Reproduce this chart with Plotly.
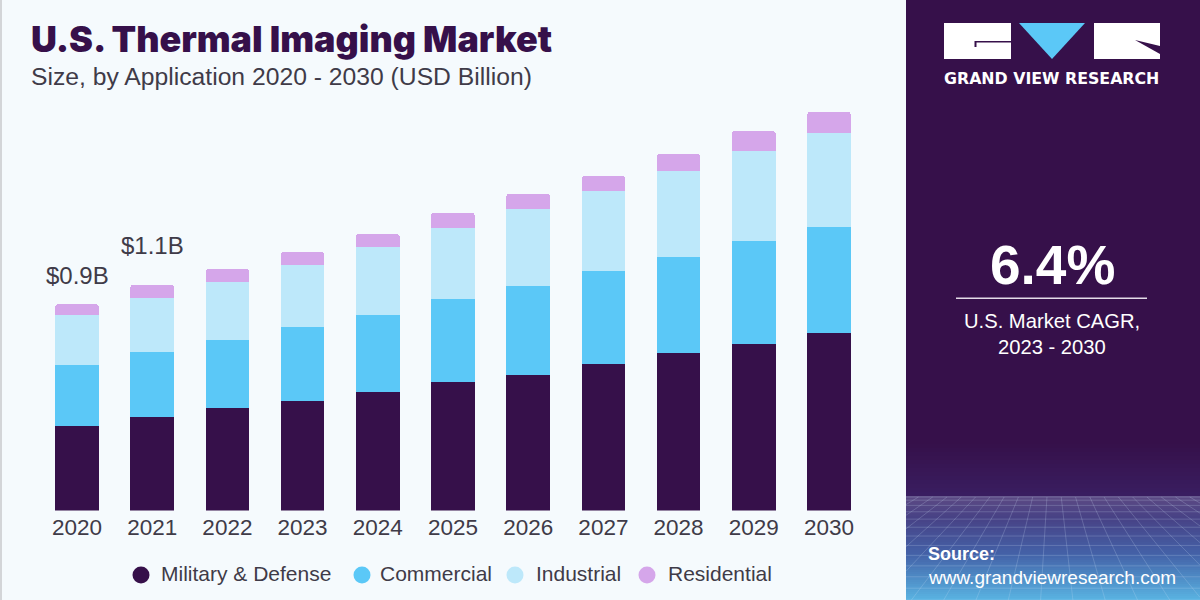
import numpy as np
import plotly.graph_objects as go

# values in USD billion
years = ["2020", "2021", "2022", "2023", "2024", "2025", "2026", "2027", "2028", "2029", "2030"]
military = [0.369, 0.408, 0.448, 0.478, 0.517, 0.561, 0.592, 0.640, 0.688, 0.727, 0.775]
commercial = [0.266, 0.284, 0.297, 0.323, 0.336, 0.362, 0.389, 0.406, 0.419, 0.450, 0.463]
industrial = [0.218, 0.236, 0.253, 0.271, 0.297, 0.310, 0.336, 0.349, 0.376, 0.393, 0.410]
residential = [0.048, 0.057, 0.057, 0.057, 0.057, 0.066, 0.066, 0.066, 0.074, 0.087, 0.092]

series_names = ["Military & Defense", "Commercial", "Industrial", "Residential"]
series_values = [military, commercial, industrial, residential]
series_colors = ["#36104A", "#5BC8F7", "#BDE8FA", "#D5A6EA"]

bar_labels = {"2020": "$0.9B", "2021": "$1.1B"}
label_shift = {"2020": 13, "2021": 24}

PURPLE = "#36104A"
TEXT = "#3F3B48"


def px(x):
    return x / 1200


def py(y):
    return 1 - y / 600


def rect(x0, y0, x1, y1, color, layer="below"):
    return dict(type="rect", xref="paper", yref="paper", x0=px(x0), x1=px(x1), y0=py(y0), y1=py(y1),
                fillcolor=color, line_width=0, layer=layer)


def poly(points, color):
    d = "M" + " L".join(f"{px(x):.5f},{py(y):.5f}" for x, y in points) + " Z"
    return dict(type="path", xref="paper", yref="paper", path=d, fillcolor=color, line_width=0, layer="above")


def note(x, y, text, size, color, anchor="left", bold=False, family="Liberation Sans", weight=None):
    if bold:
        text = f"<b>{text}</b>"
    font = dict(size=size, color=color, family=family)
    if weight:
        font["weight"] = weight
    if anchor == "left":
        x -= 2  # annotation box padding
    return dict(xref="paper", yref="paper", x=px(x), y=py(y), text=text, showarrow=False, xanchor=anchor,
                yanchor="middle", font=font)


def mix(c0, c1, t):
    return "rgb(" + ",".join(str(int(a + (b - a) * t)) for a, b in zip(c0, c1)) + ")"


fig = go.Figure()

for name, values, color in zip(series_names, series_values, series_colors):
    fig.add_trace(go.Bar(x=years, y=values, name=name, marker=dict(color=color, line_width=0), showlegend=False))

shapes = [rect(0, 0, 2, 600, "#D3D5D8"), rect(906, 0, 1200, 600, PURPLE)]

# bottom of the side panel: gradient then the wire floor
for y in range(440, 496, 4):
    shapes.append(rect(906, y, 1200, y + 4, mix((54, 16, 74), (58, 30, 98), (y - 440) / 56)))
stops = [(0.0, (92, 74, 132)), (0.2, (72, 66, 134)), (0.55, (68, 98, 168)), (1.0, (90, 182, 228))]
for y in range(496, 600, 2):
    t = (y - 496) / 104
    for (t0, c0), (t1, c1) in zip(stops, stops[1:]):
        if t0 <= t <= t1:
            shapes.append(rect(906, y, 1200, y + 2, mix(c0, c1, (t - t0) / (t1 - t0))))
            break

grid = []
for k in np.linspace(0, 1, 13):
    y = 497 + 103 * k ** 1.4
    grid.append(f"M{px(906):.5f},{py(y):.5f} L1,{py(y):.5f}")
for x in np.arange(-500, 1700, 34):
    x_top = 1052 + (x - 600) * 0.42
    x_bot = 1052 + (x - 600) * 0.95
    if x_top > 1200 and x_bot > 1200:
        continue
    if x_top < 906 and x_bot < 906:
        continue
    x0, y0, x1, y1 = x_top, 497.0, x_bot, 600.0
    if x1 < 906:
        y1 = y0 + (906 - x0) / (x1 - x0) * (y1 - y0)
        x1 = 906
    if x1 > 1200:
        y1 = y0 + (1200 - x0) / (x1 - x0) * (y1 - y0)
        x1 = 1200
    if x0 < 906:
        y0 = y0 + (906 - x0) / (x1 - x0) * (y1 - y0)
        x0 = 906
    if x0 > 1200:
        y0 = y0 + (1200 - x0) / (x1 - x0) * (y1 - y0)
        x0 = 1200
    grid.append(f"M{px(x0):.5f},{py(y0):.5f} L{px(x1):.5f},{py(y1):.5f}")
shapes.append(dict(type="path", xref="paper", yref="paper", path=" ".join(grid),
                   line=dict(color="rgba(205,225,245,0.22)", width=1), layer="below"))

# logo
shapes += [
    rect(944, 23, 1011, 59, "#FFFFFF", "above"),
    rect(975, 41, 1011, 42.5, PURPLE, "above"),
    rect(974.5, 41, 976.5, 47, PURPLE, "above"),
    poly([(1019, 23), (1085, 23), (1052, 59)], "#5BC8F7"),
    rect(1094, 23, 1160, 59, "#FFFFFF", "above"),
    poly([(1135, 40), (1160, 46), (1160, 54)], PURPLE),
    rect(956, 297.5, 1147, 299, "#E4DCE8", "above"),
]

annotations = [
    note(31, 39, "U.S. Thermal Imaging Market", 35.9, PURPLE, family="Inter", weight=900),
    note(31, 76, "Size, by Application 2020 - 2030 (USD Billion)", 24.7, TEXT),
    note(944, 78, "GRAND VIEW RESEARCH", 15.8, "#FFFFFF", bold=True, family="DejaVu Sans"),
    note(1052, 265, "6.4%", 55, "#FFFFFF", anchor="center", bold=True),
    note(1052, 321, "U.S. Market CAGR,", 20.2, "#FFFFFF", anchor="center"),
    note(1052, 347, "2023 - 2030", 20.2, "#FFFFFF", anchor="center"),
    note(928, 554, "Source:", 18, "#FFFFFF", bold=True),
    note(928, 577, "www.grandviewresearch.com", 19, "#FFFFFF"),
]

# bar total labels
for year, label in bar_labels.items():
    i = years.index(year)
    total = sum(v[i] for v in series_values)
    annotations.append(dict(x=i, y=total, xref="x", yref="y", text=label, showarrow=False, yanchor="bottom",
                            yshift=label_shift[year], font=dict(size=24, color=TEXT, family="Liberation Sans")))

# legend row
legend_dots = [141, 362, 515, 647]
legend_text = [161, 380, 536, 668]
for name, color, dot_x, text_x in zip(series_names, series_colors, legend_dots, legend_text):
    shapes.append(dict(type="circle", xref="paper", yref="paper", x0=px(dot_x - 8.5), x1=px(dot_x + 8.5),
                       y0=py(575 + 8.5), y1=py(575 - 8.5), fillcolor=color, line_width=0, layer="above"))
    annotations.append(note(text_x, 573.5, name, 21, TEXT))

fig.update_layout(
    width=1200, height=600, margin=dict(l=0, r=0, t=0, b=0),
    paper_bgcolor="#F5FAFD", plot_bgcolor="rgba(0,0,0,0)",
    barmode="stack", bargap=0.42, barcornerradius=3,
    shapes=shapes, annotations=annotations,
    xaxis=dict(domain=[px(39.4), px(866.6)], range=[-0.5, 10.5], type="category", showline=False, showgrid=False,
               ticks="", ticklabelstandoff=1, tickfont=dict(size=22.5, color=TEXT, family="Liberation Sans")),
    yaxis=dict(domain=[py(510.5), py(100)], range=[0, 1.7926], visible=False),
)

fig.write_html("out.html", config={"displayModeBar": False}, post_script="document.body.style.margin='0';")
